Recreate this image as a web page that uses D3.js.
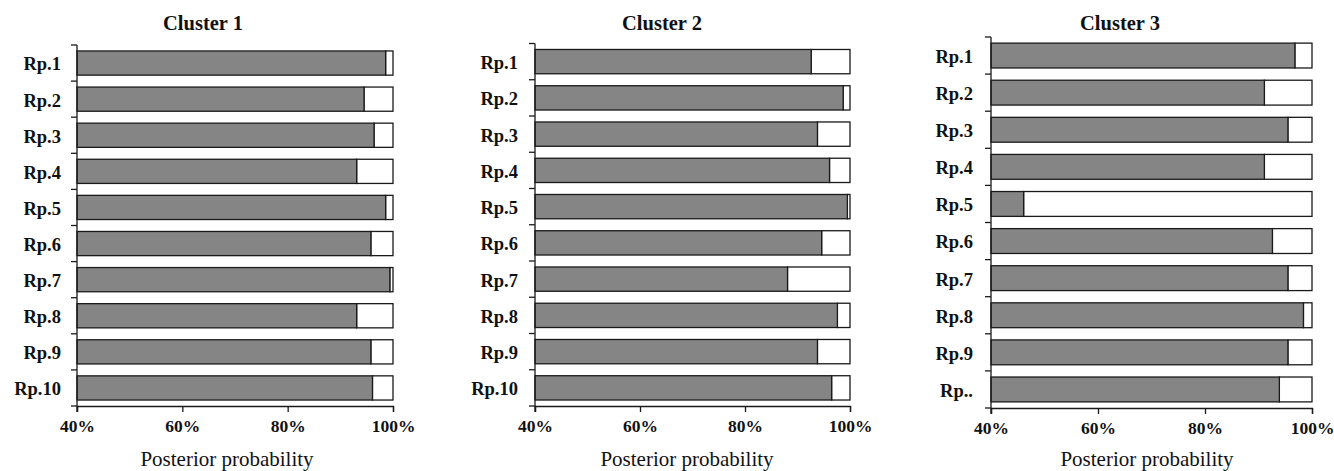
<!DOCTYPE html>
<html>
<head>
<meta charset="utf-8">
<script src="https://cdn.jsdelivr.net/npm/d3@7"></script>
<style>
  html, body { margin: 0; padding: 0; background: #ffffff; }
  svg { display: block; }
  text { font-family: "Liberation Serif", "Times New Roman", serif; fill: #111; }
</style>
</head>
<body>
<svg id="chart" width="1334" height="471"></svg>
<script>
// Replicates Rp.1 – Rp.10 and their posterior probability (%) of belonging to each cluster
const categories = ["Rp.1", "Rp.2", "Rp.3", "Rp.4", "Rp.5", "Rp.6", "Rp.7", "Rp.8", "Rp.9", "Rp.10"];
const cluster1 = [98.6, 94.5, 96.4, 93.1, 98.6, 95.8, 99.4, 93.1, 95.8, 96.1];
const cluster2 = [92.6, 98.7, 93.8, 96.1, 99.5, 94.6, 88.1, 97.6, 93.8, 96.5];
const cluster3 = [96.8, 91.1, 95.5, 91.1, 46.1, 92.6, 95.5, 98.4, 95.5, 93.9];
const clusterTitles = ["Cluster 1", "Cluster 2", "Cluster 3"];
const xTicks = [40, 60, 80, 100];
const xDomain = [40, 100];

// Panel geometry
const panels = [
  { values: cluster1, title: clusterTitles[0], x0: 77, x1: 393, y0: 45, y1: 406, titleX: 203, labelX: 227, labelPad: 16, shortLast: false },
  { values: cluster2, title: clusterTitles[1], x0: 535, x1: 850, y0: 43.5, y1: 406, titleX: 662, labelX: 687, labelPad: 17, shortLast: false },
  { values: cluster3, title: clusterTitles[2], x0: 991, x1: 1312, y0: 37, y1: 408, titleX: 1120, labelX: 1147, labelPad: 18, shortLast: true }
];

const svg = d3.select("#chart");
const grey = "#858585";
const ink = "#1a1a1a";

panels.forEach(p => {
  const g = svg.append("g");
  const x = d3.scaleLinear().domain(xDomain).range([p.x0, p.x1]);
  const y = d3.scaleBand().domain(categories).range([p.y0, p.y1])
    .paddingInner(0.33).paddingOuter(0.165);

  const rows = categories.map((c, i) => ({ cat: c, v: p.values[i] }));

  // remainder (white) segment up to 100%
  g.selectAll("rect.rest").data(rows).join("rect")
    .attr("class", "rest")
    .attr("x", d => x(d.v))
    .attr("y", d => y(d.cat))
    .attr("width", d => x(100) - x(d.v))
    .attr("height", y.bandwidth())
    .attr("fill", "#ffffff")
    .attr("stroke", ink)
    .attr("stroke-width", 1.3);

  // posterior probability (grey) segment
  g.selectAll("rect.prob").data(rows).join("rect")
    .attr("class", "prob")
    .attr("x", x(40))
    .attr("y", d => y(d.cat))
    .attr("width", d => x(d.v) - x(40))
    .attr("height", y.bandwidth())
    .attr("fill", grey)
    .attr("stroke", ink)
    .attr("stroke-width", 1.3);

  // category axis: labels only
  const yAxis = d3.axisLeft(y).tickSize(0).tickPadding(p.labelPad)
    .tickFormat((d, i) => (p.shortLast && i === categories.length - 1) ? "Rp.." : d);
  const ya = g.append("g").attr("transform", `translate(${p.x0},0)`).call(yAxis);
  ya.select(".domain").remove();
  ya.selectAll("text")
    .attr("dy", "0.4em")
    .style("font-family", "'Liberation Serif', 'Times New Roman', serif")
    .style("font-weight", "bold")
    .style("font-size", "18.5px")
    .attr("fill", "#111");

  // category axis line with boundary ticks
  const step = y.step();
  const bounds = d3.range(categories.length + 1).map(i => p.y0 + i * step);
  g.append("line")
    .attr("x1", p.x0).attr("x2", p.x0)
    .attr("y1", p.y0).attr("y2", p.y1 + 6)
    .attr("stroke", ink).attr("stroke-width", 1.3);
  g.selectAll("line.btick").data(bounds).join("line")
    .attr("class", "btick")
    .attr("x1", p.x0 - 6).attr("x2", p.x0)
    .attr("y1", d => d).attr("y2", d => d)
    .attr("stroke", ink).attr("stroke-width", 1.3);

  // value axis
  const xAxis = d3.axisBottom(x).tickValues(xTicks).tickSize(6).tickPadding(8)
    .tickFormat(d => d + "%");
  const xa = g.append("g").attr("transform", `translate(0,${p.y1})`).call(xAxis);
  xa.select(".domain").attr("stroke", ink).attr("stroke-width", 1.3);
  xa.selectAll(".tick line").attr("stroke", ink).attr("stroke-width", 1.3);
  xa.selectAll("text")
    .style("font-family", "'Liberation Serif', 'Times New Roman', serif")
    .style("font-weight", "bold")
    .style("font-size", "17.5px")
    .attr("fill", "#111");

  // panel title
  g.append("text")
    .attr("x", p.titleX).attr("y", 30)
    .attr("text-anchor", "middle")
    .style("font-weight", "bold")
    .style("font-size", "20.5px")
    .text(p.title);

  // value axis title
  g.append("text")
    .attr("x", p.labelX).attr("y", 466)
    .attr("text-anchor", "middle")
    .style("font-size", "21px")
    .text("Posterior probability");
});
</script>
</body>
</html>
